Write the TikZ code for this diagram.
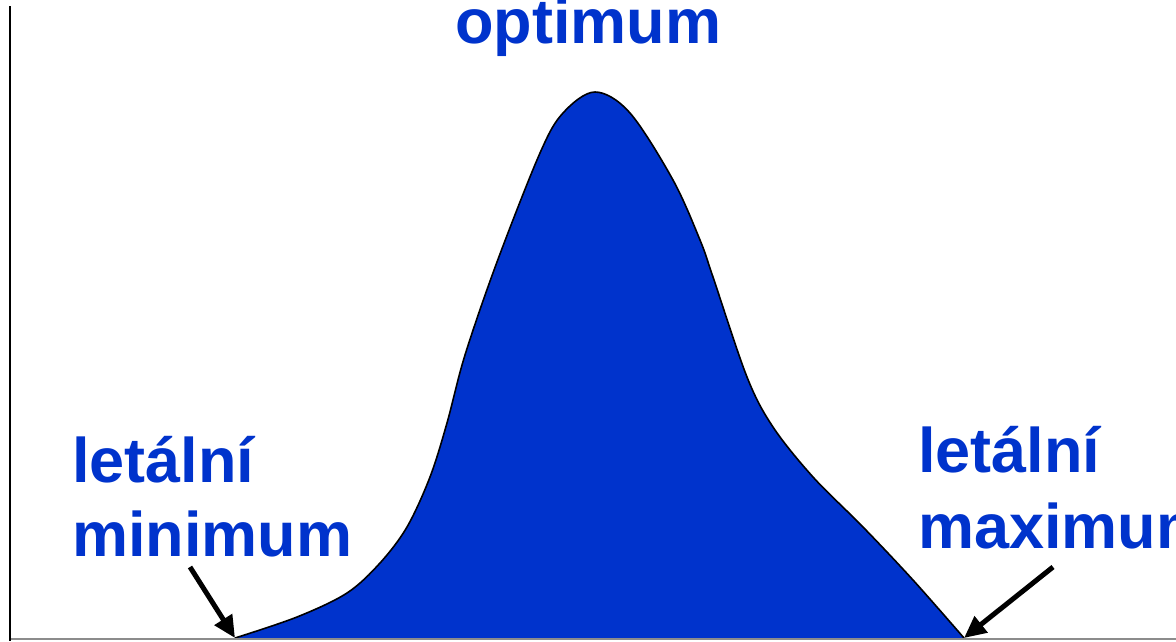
\documentclass[tikz,border=0pt]{standalone}
\usepackage{fontspec}
\setmainfont{Liberation Sans}
\usetikzlibrary{arrows.meta}
\definecolor{curveblue}{HTML}{0033CC}
\tikzset{
  lbl/.style={font=\fontsize{63}{75}\selectfont\bfseries, text=curveblue, inner sep=0pt, anchor=base west},
  pointer/.style={line width=5pt, -{Triangle[length=22pt,width=20pt]}},
  axis/.style={line width=2pt}
}
\def\bellpts{(235,638) (297,617) (347,593) (380,563) (407,527) (430,477) (447,423) (465,355) (497,262)
 (540,153) (563,113) (595,92) (630,113) (673,180) (700,240) (713,277) (747,377) (773,427)
 (813,477) (863,527) (913,580) (964,638)}
\begin{document}
\begin{tikzpicture}[x=1pt,y=-1pt]
\useasboundingbox (0,0) rectangle (1176,641);
% curve
\coordinate (cstart) at (235,638);
\coordinate (cend) at (964,638);
\fill[curveblue] plot[smooth, tension=0.55] coordinates {\bellpts} -- cycle;
\draw[line width=1.6pt] plot[smooth, tension=0.55] coordinates {\bellpts};
% axes
\coordinate (otop) at (10,6);
\coordinate (orig) at (10,641);
\coordinate (xstart) at (10,639);
\coordinate (xend) at (1176,639);
\draw[axis,black!45] (xstart) -- (xend);
\draw[axis] (otop) -- (orig);
% labels
\node[lbl] (opt) at (455,43) {optimum};
\node[lbl] (minA) at (72,482) {letální};
\node[lbl] (minB) at (72,556) {minimum};
\node[lbl] (maxA) at (918,472) {letální};
\node[lbl] (maxB) at (918,548) {maximum};
% pointers
\coordinate (pminS) at (190,567);
\coordinate (pmaxS) at (1053,567);
\draw[pointer] (pminS) -- (cstart);
\draw[pointer] (pmaxS) -- (cend);
\end{tikzpicture}
\end{document}
